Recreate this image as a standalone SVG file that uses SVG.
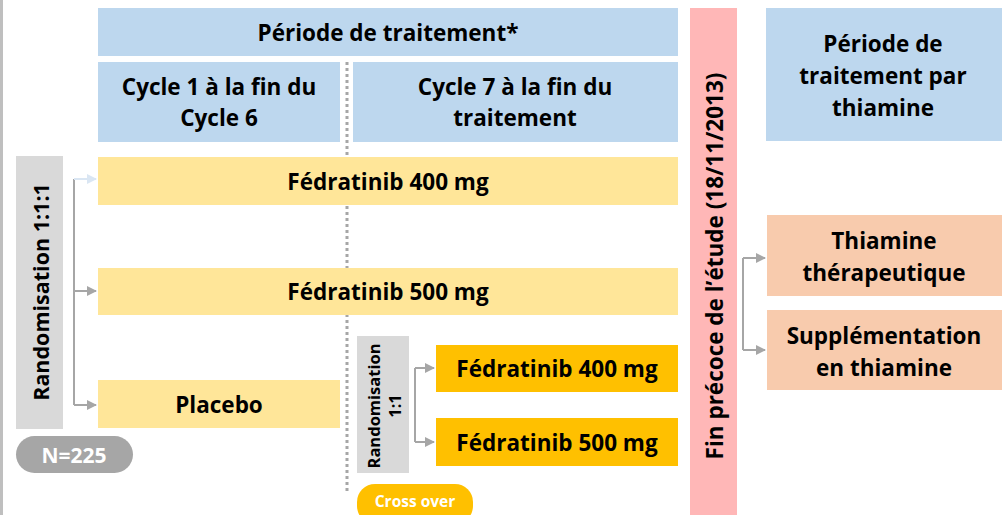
<svg xmlns="http://www.w3.org/2000/svg" width="1002" height="515" viewBox="0 0 1002 515">
<defs>
<marker id="ah" viewBox="0 0 10 10" refX="9" refY="5" markerWidth="5" markerHeight="5" orient="auto"><path d="M0,0 L10,5 L0,10 z" fill="#A6A6A6"/></marker>
<marker id="ahb" viewBox="0 0 10 10" refX="9" refY="5" markerWidth="5" markerHeight="5" orient="auto"><path d="M0,0 L10,5 L0,10 z" fill="#DAE6F3"/></marker>
<style>
.t{font-family:"Open Sans","Liberation Sans",sans-serif;font-weight:700;fill:#000;text-anchor:middle;dominant-baseline:central}
.w{fill:#fff}
.blue{fill:#BDD7EE}
.yel{fill:#FFE699}
.org{fill:#FFC000}
.peach{fill:#F8CBAD}
.gray{fill:#D9D9D9}
.c{fill:none;stroke:#A6A6A6;stroke-width:2}
</style>
</defs>
<rect x="0" y="0" width="1002" height="515" fill="#fff"/>
<line x1="1.5" y1="0" x2="1.5" y2="515" stroke="#BFBFBF" stroke-width="3"/>

<g id="hdr"><rect class="blue" x="98" y="8" width="580" height="48"/><text class="t" x="388" y="32" font-size="22.5">Période de traitement*</text></g>
<g id="cyc1"><rect class="blue" x="98" y="62" width="242" height="80"/><text class="t" font-size="22.5"><tspan x="219" y="86">Cycle 1 à la fin du</tspan><tspan x="219" y="117">Cycle 6</tspan></text></g>
<g id="cyc7"><rect class="blue" x="353" y="62" width="325" height="80"/><text class="t" font-size="22.5"><tspan x="515" y="86">Cycle 7 à la fin du</tspan><tspan x="515" y="117">traitement</tspan></text></g>
<g id="thper"><rect class="blue" x="766" y="8" width="236" height="133"/><text class="t" font-size="22.5"><tspan x="883" y="43">Période de</tspan><tspan x="883" y="75">traitement par</tspan><tspan x="883" y="107">thiamine</tspan></text></g>

<g id="sep"><line x1="347" y1="62" x2="347" y2="492" stroke="#A6A6A6" stroke-width="3" stroke-dasharray="3,3"/></g>

<g id="f400"><rect class="yel" x="98" y="157" width="580" height="48"/><text class="t" x="388" y="181" font-size="22.5">Fédratinib 400 mg</text></g>
<g id="f500"><rect class="yel" x="98" y="268" width="580" height="47"/><text class="t" x="388" y="291" font-size="22.5">Fédratinib 500 mg</text></g>
<g id="placebo"><rect class="yel" x="98" y="380" width="242" height="48"/><text class="t" x="219" y="404" font-size="22.5">Placebo</text></g>

<g id="rand"><rect class="gray" x="16" y="156" width="47" height="273"/><text class="t" font-size="21.5" transform="translate(40,292) rotate(-90)" x="0" y="0">Randomisation 1:1:1</text></g>
<g id="n225"><rect x="16" y="436" width="117" height="37" rx="18.5" fill="#A6A6A6"/><text class="t w" x="74" y="455" font-size="21">N=225</text></g>

<g id="rand2"><rect class="gray" x="357" y="336" width="52" height="137"/><text class="t" font-size="16.5" transform="translate(383,406) rotate(-90)"><tspan x="0" y="-10">Randomisation</tspan><tspan x="0" y="11">1:1</tspan></text></g>
<g id="o400"><rect class="org" x="436" y="345" width="242" height="47"/><text class="t" x="557" y="368" font-size="22.5">Fédratinib 400 mg</text></g>
<g id="o500"><rect class="org" x="436" y="418" width="242" height="48"/><text class="t" x="557" y="442" font-size="22.5">Fédratinib 500 mg</text></g>
<g id="cross"><rect x="357" y="484" width="116" height="40" rx="18" class="org"/><text class="t w" x="415" y="501" font-size="15.5">Cross over</text></g>

<g id="fin"><rect x="690" y="8" width="47" height="507" fill="#FFB7B7"/><text class="t" font-size="22.5" transform="translate(714,266) rotate(-90)" x="0" y="0">Fin précoce de l’étude (18/11/2013)</text></g>

<g id="thth"><rect class="peach" x="767" y="215" width="235" height="81"/><text class="t" font-size="22.5"><tspan x="884" y="240">Thiamine</tspan><tspan x="884" y="272">thérapeutique</tspan></text></g>
<g id="thsup"><rect class="peach" x="767" y="310" width="235" height="80"/><text class="t" font-size="22.5"><tspan x="884" y="335">Supplémentation</tspan><tspan x="884" y="367">en thiamine</tspan></text></g>

<g id="connectors">
<path class="c" d="M74,179 L74,405"/>
<path d="M74,179 L96,179" fill="none" stroke="#DAE6F3" stroke-width="2" marker-end="url(#ahb)"/>
<path class="c" d="M74,291 L96,291" marker-end="url(#ah)"/>
<path class="c" d="M74,405 L96,405" marker-end="url(#ah)"/>
<path class="c" d="M415,368 L415,442"/>
<path class="c" d="M415,368 L434,368" marker-end="url(#ah)"/>
<path class="c" d="M415,442 L434,442" marker-end="url(#ah)"/>
<path class="c" d="M743,258 L743,350"/>
<path class="c" d="M743,258 L765,258" marker-end="url(#ah)"/>
<path class="c" d="M743,350 L765,350" marker-end="url(#ah)"/>
</g>
</svg>
